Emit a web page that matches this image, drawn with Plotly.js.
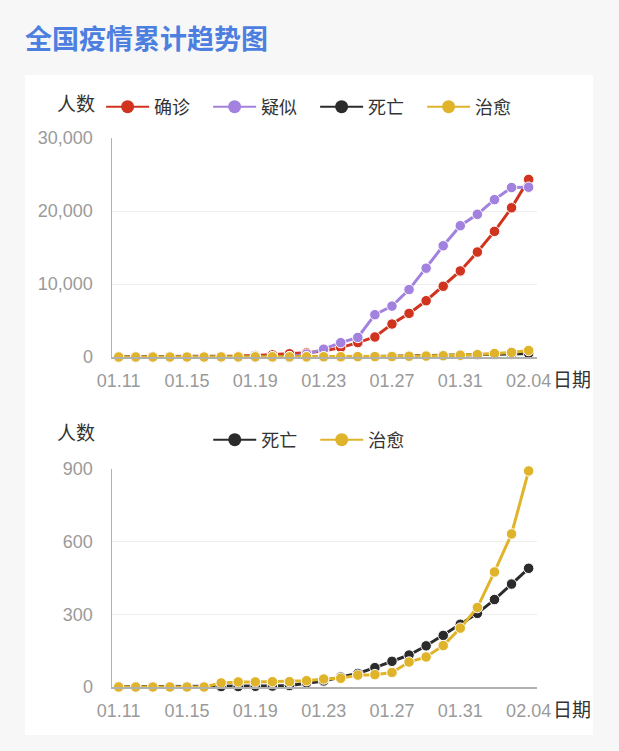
<!DOCTYPE html>
<html>
<head>
<meta charset="utf-8">
<script src="https://cdn.plot.ly/plotly-3.0.1.min.js"></script>
<style>
  html, body { margin: 0; padding: 0; background: #f7f7f7; }
  #title {
    position: absolute; left: 25px; top: 22px;
    font: bold 27px/32px "Noto Sans CJK SC", sans-serif;
    color: #4d7fe0;
  }
  #card {
    position: absolute; left: 25px; top: 75px;
    width: 568px; height: 660px; background: #fff;
  }
  #chart-total { position: absolute; left: 0; top: 0; width: 568px; height: 325px; }
  #chart-dc    { position: absolute; left: 0; top: 325px; width: 568px; height: 335px; }
</style>
</head>
<body>
<div id="title">全国疫情累计趋势图</div>
<div id="card">
  <div id="chart-total"></div>
  <div id="chart-dc"></div>
</div>
<script>
// ── Datos ────────────────────────────────────────────────────────────────────
const dates = ['01.11','01.12','01.13','01.14','01.15','01.16','01.17','01.18','01.19',
               '01.20','01.21','01.22','01.23','01.24','01.25','01.26','01.27','01.28',
               '01.29','01.30','01.31','02.01','02.02','02.03','02.04'];
const confirmed = [41,41,41,41,41,45,62,121,198,291,440,571,830,1287,1975,2744,
                   4515,5974,7711,9692,11791,14380,17205,20438,24324];
const suspected = [0,0,0,0,0,0,0,0,0,0,37,393,1072,1965,2684,5794,
                   6973,9239,12167,15238,17988,19544,21558,23214,23260];
const deaths    = [1,1,1,1,1,1,2,2,3,4,6,17,25,41,56,80,
                   106,132,170,213,259,304,361,425,490];
const cured     = [0,0,0,0,0,0,17,21,21,22,22,26,33,36,49,51,
                   60,103,124,171,243,328,475,632,892];

const C = {
  red:    '#d0341f',
  purple: '#a282de',
  black:  '#2b2b2b',
  yellow: '#e0b42a',
  grid:   '#eeeeee',
  axis:   '#b0b0b0',
  tick:   '#9a9a9a',
  text:   '#333333',
};

const FONT = 'Liberation Sans, Noto Sans CJK SC, sans-serif';

// ── Helpers ──────────────────────────────────────────────────────────────────
function mkTrace(color, name, y) {
  return {
    type: 'scatter', mode: 'lines+markers', name, x: dates, y,
    line: { color, width: 3 },
    marker: { color, size: 10.5, line: { color: '#fff', width: 1 } },
    cliponaxis: false, showlegend: false, hoverinfo: 'skip',
  };
}

// legend-only entry so the legend marker is bigger than the plotted ones
function mkLegend(color, name) {
  return {
    type: 'scatter', mode: 'lines+markers', name, x: [null], y: [null],
    line: { color, width: 2 }, marker: { color, size: 13 },
    showlegend: true, hoverinfo: 'skip',
  };
}

function mkLayout(h, top, bottom, yaxis, legendPos, unitY) {
  return {
    width: 568, height: h,
    paper_bgcolor: '#fff', plot_bgcolor: '#fff',
    margin: { l: 87, r: 56, t: top, b: bottom },
    font: { family: FONT, size: 18, color: C.tick },
    xaxis: {
      type: 'category', range: [-0.39, 24.49],
      tickmode: 'linear', tick0: 0, dtick: 4,
      showgrid: false, zeroline: false,
      showline: true, linecolor: C.axis, linewidth: 1.5,
      ticks: '', ticklabelstandoff: 7,
      tickfont: { size: 18, color: C.tick },
    },
    yaxis: Object.assign({
      gridcolor: C.grid, zeroline: false,
      showline: true, linecolor: C.axis, linewidth: 1.5,
      ticks: '', ticklabelstandoff: 14,
      tickfont: { size: 18, color: C.tick },
    }, yaxis),
    showlegend: true,
    legend: Object.assign({
      orientation: 'h', xref: 'container', yref: 'container', yanchor: 'middle',
      font: { family: FONT, size: 18, color: C.text },
      itemwidth: 43, entrywidth: 49, bgcolor: 'rgba(0,0,0,0)',
    }, legendPos),
    annotations: [
      { text: '人数', xref: 'paper', yref: 'paper', x: -0.084, y: unitY,
        xanchor: 'center', yanchor: 'middle', showarrow: false,
        font: { family: FONT, size: 19, color: C.text } },
      { text: '日期', xref: 'paper', yref: 'paper', x: 1, y: 0,
        xanchor: 'left', yanchor: 'middle', xshift: 14, yshift: -23,
        showarrow: false, font: { family: FONT, size: 19, color: C.text } },
    ],
    hovermode: false,
  };
}

const PLOT_CONFIG = { displayModeBar: false, staticPlot: true };

// ── Gráfica 1: todos ─────────────────────────────────────────────────────────
Plotly.newPlot('chart-total', [
  mkTrace(C.red, '确诊', confirmed),
  mkTrace(C.purple, '疑似', suspected),
  mkTrace(C.black, '死亡', deaths),
  mkTrace(C.yellow, '治愈', cured),
  mkLegend(C.red, '确诊'),
  mkLegend(C.purple, '疑似'),
  mkLegend(C.black, '死亡'),
  mkLegend(C.yellow, '治愈'),
], mkLayout(325, 62.5, 42.5,
  { range: [0, 30000], tickmode: 'linear', tick0: 0, dtick: 10000, tickformat: ',d' },
  { x: 0.134, xanchor: 'left', y: 1 - 32 / 325 }, 1.152), PLOT_CONFIG);

// ── Gráfica 2: muertes y curados ─────────────────────────────────────────────
Plotly.newPlot('chart-dc', [
  mkTrace(C.black, '死亡', deaths),
  mkTrace(C.yellow, '治愈', cured),
  mkLegend(C.black, '死亡'),
  mkLegend(C.yellow, '治愈'),
], mkLayout(335, 69, 47.5,
  { range: [0, 900], tickmode: 'linear', tick0: 0, dtick: 300 },
  { x: 0.511, xanchor: 'center', y: 1 - 40 / 335 }, 1.165), PLOT_CONFIG);
</script>
</body>
</html>
